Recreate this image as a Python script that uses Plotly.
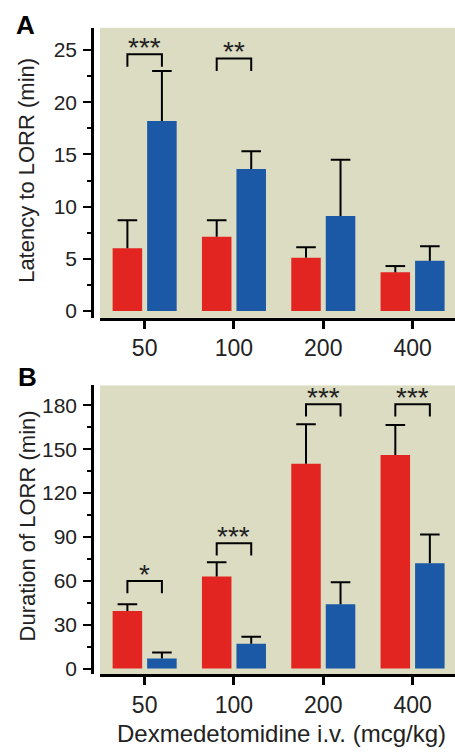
import plotly.graph_objects as go

doses = ["50", "100", "200", "400"]

# Panel A: latency to LORR (min)
lat_red = [6.0, 7.1, 5.1, 3.7]
lat_red_err = [8.7, 8.7, 6.1, 4.3]
lat_blue = [18.2, 13.6, 9.1, 4.8]
lat_blue_err = [23.0, 15.3, 14.5, 6.2]
lat_sig = ["***", "**", "", ""]
lat_bracket = [24.6, 24.2, None, None]

# Panel B: duration of LORR (min)
dur_red = [39.4, 63.0, 140.0, 146.0]
dur_red_err = [44.0, 72.7, 167.0, 166.5]
dur_blue = [6.8, 17.0, 44.0, 72.0]
dur_blue_err = [10.9, 21.7, 59.0, 91.7]
dur_sig = ["*", "***", "***", "***"]
dur_bracket = [59.8, 85.6, 180.7, 180.7]

RED = "#e32522"
BLUE = "#1b58a5"
BG = "#dcdcc2"
FONT = "Liberation Sans, Arial, sans-serif"

W, H = 455, 753
BARGAP = 0.227
xpos = list(range(len(doses)))
off = (1 - BARGAP) / 4

fig = go.Figure()


def add_bars(vals, errs, color, side, xa, ya):
    fig.add_trace(go.Bar(
        x=xpos, y=vals, marker=dict(color=color, line=dict(width=0)),
        xaxis=xa, yaxis=ya, showlegend=False, hoverinfo="skip"))
    # one-sided (upward) error bar: cap marker at the top, whisker down to the bar
    fig.add_trace(go.Scatter(
        x=[i + side * off for i in xpos], y=errs, mode="markers",
        marker=dict(symbol="line-ew-open", size=14, color="black",
                    line=dict(color="black", width=2)),
        error_y=dict(type="data", symmetric=False, array=[0] * len(vals),
                     arrayminus=[e - v for e, v in zip(errs, vals)],
                     color="black", thickness=2, width=0),
        xaxis=xa, yaxis=ya, showlegend=False, hoverinfo="skip"))


add_bars(lat_red, lat_red_err, RED, -1, "x", "y")
add_bars(lat_blue, lat_blue_err, BLUE, 1, "x", "y")
add_bars(dur_red, dur_red_err, RED, -1, "x2", "y2")
add_bars(dur_blue, dur_blue_err, BLUE, 1, "x2", "y2")


def add_brackets(sigs, levels, leg, xref, yref, star_off):
    for i, (s, lv) in enumerate(zip(sigs, levels)):
        if not s or lv is None:
            continue
        fig.add_shape(type="path",
                      path=f"M {i-off},{lv-leg} L {i-off},{lv} L {i+off},{lv} L {i+off},{lv-leg}",
                      xref=xref, yref=yref, line=dict(color="black", width=2))
        fig.add_annotation(x=i, y=lv, xref=xref, yref=yref, text=s,
                           showarrow=False, yanchor="bottom", yshift=star_off,
                           font=dict(family=FONT, size=28, color="#222"))


add_brackets(lat_sig, lat_bracket, 1.2, "x", "y", -11)
add_brackets(dur_sig, dur_bracket, 8.3, "x2", "y2", -11)

# domains (pixel-based)
xdom = [100 / W, 1.0]
ydomA = [1 - 320 / H, 1 - 28 / H]
ydomB = [1 - 679 / H, 1 - 388 / H]
ypos = 92 / W

xaxis_common = dict(
    type="linear", range=[-0.5, 3.475], tickmode="array", tickvals=xpos, ticktext=doses,
    showline=True, linecolor="black", linewidth=3, ticks="outside",
    ticklen=8, tickwidth=2.5, tickcolor="black", showgrid=False, zeroline=False,
    tickfont=dict(family=FONT, size=23, color="#222"), domain=xdom)

yaxis_common = dict(
    showline=True, linecolor="black", linewidth=2.5, ticks="outside",
    ticklen=8, tickwidth=2, tickcolor="black", showgrid=False, zeroline=False,
    tickfont=dict(family=FONT, size=21, color="#222"), anchor="free",
    position=ypos, ticklabelstandoff=2)

fig.update_layout(
    width=W, height=H, margin=dict(l=0, r=0, t=0, b=0),
    paper_bgcolor="white", plot_bgcolor=BG,
    barmode="group", bargap=BARGAP, bargroupgap=0.145,
    xaxis=dict(**xaxis_common, anchor="y", ticklabelstandoff=0),
    xaxis2=dict(**xaxis_common, anchor="y2", ticklabelstandoff=0),
    yaxis=dict(**yaxis_common, range=[-0.667, 27.14], tickvals=[0, 5, 10, 15, 20, 25],
               domain=ydomA,
               minor=dict(dtick=2.5, tick0=0, ticks="outside", ticklen=4,
                          tickwidth=2, tickcolor="black", showgrid=False)),
    yaxis2=dict(**yaxis_common, range=[-4.08, 193.6], tickvals=[0, 30, 60, 90, 120, 150, 180],
                domain=ydomB,
                minor=dict(dtick=15, tick0=0, ticks="outside", ticklen=4,
                           tickwidth=2, tickcolor="black", showgrid=False)),
)

# axis titles and panel letters
ann = [
    dict(x=27 / W, y=1 - 172 / H, text="Latency to LORR (min)", textangle=-90, size=22),
    dict(x=27 / W, y=1 - 530 / H, text="Duration of LORR (min)", textangle=-90, size=22),
    dict(x=281 / W, y=1 - 738 / H, text="Dexmedetomidine i.v. (mcg/kg)", textangle=0, size=24),
]
for a in ann:
    fig.add_annotation(x=a["x"], y=a["y"], xref="paper", yref="paper", text=a["text"],
                       textangle=a["textangle"], showarrow=False,
                       xanchor="center", yanchor="middle",
                       font=dict(family=FONT, size=a["size"], color="#222"))
for letter, lx, ly in [("A", 25, 25), ("B", 27, 380)]:
    fig.add_annotation(x=lx / W, y=1 - ly / H, xref="paper", yref="paper",
                       text=f"<b>{letter}</b>", showarrow=False,
                       xanchor="center", yanchor="middle",
                       font=dict(family=FONT, size=26, color="black"))

# remove the default page margin so the figure fills the window exactly
fig.write_html("out.html", config={"displayModeBar": False},
               post_script="document.body.style.margin='0';document.body.style.overflow='hidden';")
